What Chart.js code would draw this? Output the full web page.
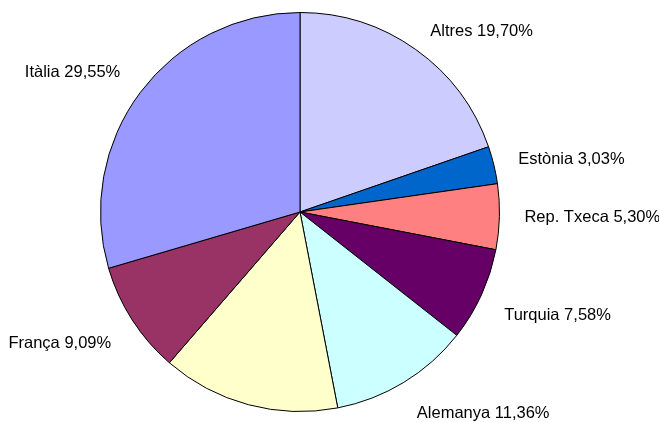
<!DOCTYPE html>
<html>
<head>
<meta charset="utf-8">
<script src="https://cdn.jsdelivr.net/npm/chart.js@4"></script>
<style>
  html, body { margin: 0; padding: 0; background: #fff; }
  #wrap { width: 659px; height: 422px; }
</style>
</head>
<body>
<div id="wrap"><canvas id="pieChart" width="659" height="422"></canvas></div>
<script>
// clockwise from 12 o'clock; the yellow slice has no visible label in the picture
const countries = ['Altres', 'Estònia', 'Rep. Txeca', 'Turquia', 'Alemanya', '', 'França', 'Itàlia'];
const shares = [19.70, 3.03, 5.30, 7.58, 11.36, 14.39, 9.09, 29.55];
const sliceColors = ['#ccccff', '#0066cc', '#ff8080', '#660066', '#ccffff', '#ffffcc', '#993366', '#9999ff'];

const fmt = (v) => v.toFixed(2).replace('.', ',') + '%';

const outsideLabels = {
  id: 'outsideLabels',
  afterDatasetsDraw(chart) {
    const ctx = chart.ctx;
    const arcs = chart.getDatasetMeta(0).data;
    ctx.save();
    ctx.font = '16.5px "Liberation Sans", Arial, sans-serif';
    ctx.fillStyle = '#000';
    ctx.textBaseline = 'middle';
    arcs.forEach((arc, i) => {
      if (!countries[i]) return;
      const mid = (arc.startAngle + arc.endAngle) / 2;
      const r = arc.outerRadius + 25;
      const x = arc.x + Math.cos(mid) * r;
      let y = arc.y + Math.sin(mid) * r;
      const right = Math.cos(mid) >= 0;
      if (Math.sin(mid) > 0.3) y += 10;
      else if (Math.sin(mid) < -0.3) y += right ? 2 : -5;
      ctx.textAlign = right ? 'left' : 'right';
      ctx.fillText(`${countries[i]} ${fmt(shares[i])}`, x, y);
    });
    ctx.restore();
  }
};

new Chart(document.getElementById('pieChart'), {
  type: 'pie',
  data: {
    labels: countries,
    datasets: [{
      data: shares,
      backgroundColor: sliceColors,
      borderColor: '#000',
      borderWidth: 1
    }]
  },
  options: {
    responsive: false,
    animation: false,
    layout: { padding: { left: 100, right: 159, top: 12, bottom: 10 } },
    plugins: {
      legend: { display: false },
      tooltip: { enabled: false }
    }
  },
  plugins: [outsideLabels]
});
</script>
</body>
</html>
